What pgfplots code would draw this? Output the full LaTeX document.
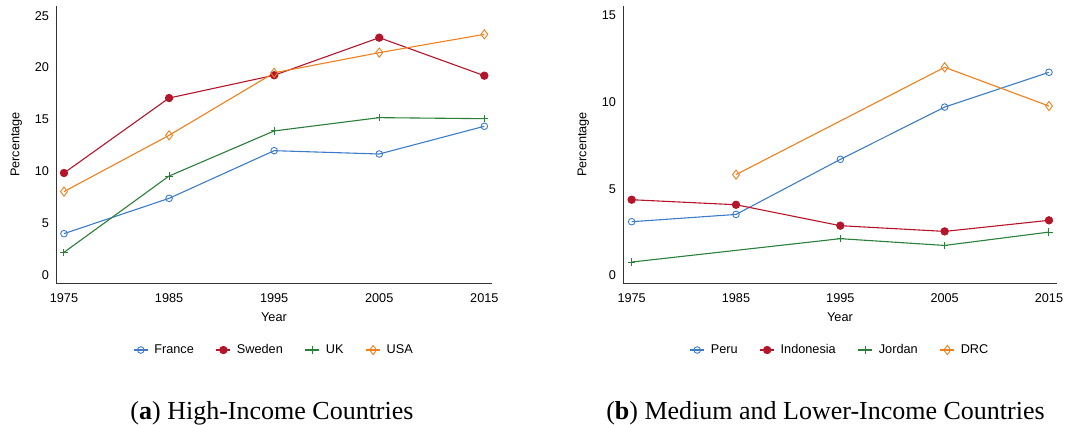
\documentclass[border=0pt]{standalone}
\usepackage{fontspec}
\setmainfont{Liberation Sans}
\newfontfamily\capfont{Liberation Serif}
\usepackage{pgfplots}
\pgfplotsset{compat=1.18}
\definecolor{cblue}{HTML}{3D7CC9}
\definecolor{cred}{HTML}{B5152B}
\definecolor{cgreen}{HTML}{2A7F3A}
\definecolor{corange}{HTML}{F07F1E}
\definecolor{axgray}{HTML}{333333}
\pgfplotsset{
  common/.style={
    scale only axis,
    anchor=south west,
    axis x line*=bottom,
    axis y line*=left,
    axis line style={axgray, line width=0.9pt, -},
    major tick length=0pt,
    xtick={1975,1985,1995,2005,2015},
    xticklabels={1975,1985,1995,2005,2015},
    /pgf/number format/assume math mode=true,
    tick label style={font=\fontsize{12.7}{14}\selectfont, text=black},
    label style={font=\fontsize{12.7}{14}\selectfont},
    xlabel={Year},
    ylabel={Percentage},
    xlabel style={yshift=-3pt},
    ylabel style={yshift=6pt},
    xticklabel style={yshift=-7pt},
    yticklabel style={xshift=-3.5pt},
    legend columns=4,
    legend style={draw=none, fill=none, font=\fontsize{12.7}{14}\selectfont,
      at={(0.5,-0.242)}, anchor=center,
      /tikz/every odd column/.append style={column sep=4pt},
      /tikz/every even column/.append style={column sep=20pt}},
    legend image code/.code={\draw[mark repeat=2,mark phase=2] plot coordinates {(0pt,0pt)(7pt,0pt)(14pt,0pt)};},
    every axis plot/.append style={line width=1.1pt},
  },
  sA/.style={cblue, mark=o, mark size=3.3pt, mark options={line width=0.9pt}},
  sB/.style={cred, mark=*, mark size=3.6pt},
  sC/.style={cgreen, mark=+, mark size=3.6pt, mark options={line width=1pt}},
  sD/.style={corange, mark=diamond, mark size=4.6pt, mark options={line width=0.9pt}},
}
\begin{document}
\begin{tikzpicture}[x=1pt,y=1pt]
\useasboundingbox (0,0) rectangle (1084,425);
\begin{axis}[common, at={(56pt,142pt)}, width=436pt, height=277pt,
  xmin=1974.24, xmax=2015.73, ymin=-0.74, ymax=25.93,
  ytick={0,5,10,15,20,25}]
\addplot[sA] coordinates {(1975,4.01)(1985,7.41)(1995,12.0)(2005,11.68)(2015,14.35)};
\addlegendentry{France}
\addplot[sB] coordinates {(1975,9.85)(1985,17.07)(1995,19.26)(2005,22.88)(2015,19.22)};
\addlegendentry{Sweden}
\addplot[sC] coordinates {(1975,2.21)(1985,9.56)(1995,13.9)(2005,15.18)(2015,15.08)};
\addlegendentry{UK}
\addplot[sD] coordinates {(1975,8.06)(1985,13.48)(1995,19.5)(2005,21.44)(2015,23.2)};
\addlegendentry{USA}
\end{axis}
\begin{axis}[common, at={(623pt,142pt)}, width=434pt, height=277pt,
  xmin=1974.17, xmax=2015.77, ymin=-0.44, ymax=15.56,
  ytick={0,5,10,15}]
\addplot[sA] coordinates {(1975,3.10)(1985,3.52)(1995,6.70)(2005,9.72)(2015,11.73)};
\addlegendentry{Peru}
\addplot[sB] coordinates {(1975,4.37)(1985,4.08)(1995,2.87)(2005,2.54)(2015,3.18)};
\addlegendentry{Indonesia}
\addplot[sC] coordinates {(1975,0.77)(1995,2.12)(2005,1.73)(2015,2.50)};
\addlegendentry{Jordan}
\addplot[sD] coordinates {(1985,5.82)(2005,12.02)(2015,9.78)};
\addlegendentry{DRC}
\end{axis}
\node[font=\capfont\fontsize{26}{30}\selectfont, anchor=base] at (272,5.7) {(\textbf{a}) High-Income Countries};
\node[font=\capfont\fontsize{26}{30}\selectfont, anchor=base] at (825.5,5.7) {(\textbf{b}) Medium and Lower-Income Countries};
\end{tikzpicture}
\end{document}
